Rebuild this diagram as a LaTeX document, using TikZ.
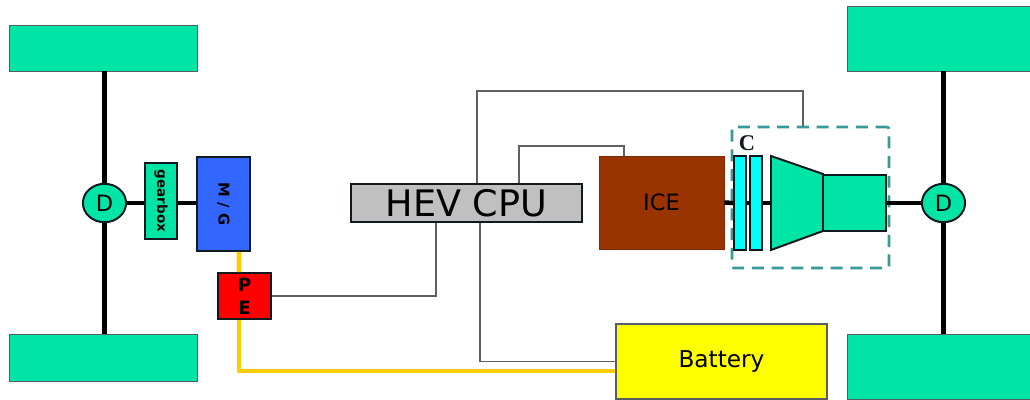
\documentclass[tikz,border=0pt]{standalone}
\usepackage{fontspec}
\setmainfont{DejaVu Sans}
\newfontfamily\labelserif{Liberation Serif}
\usetikzlibrary{shapes.geometric}
\definecolor{Ink}{HTML}{101820}
\definecolor{WheelGreen}{HTML}{00E4A6}
\definecolor{MotorBlue}{HTML}{3366FF}
\definecolor{EngineBrown}{HTML}{993300}
\definecolor{PlateCyan}{HTML}{00FFFF}
\definecolor{CaseTeal}{HTML}{379A96}
\definecolor{PowerOrange}{HTML}{FFCC00}
\definecolor{SignalGrey}{HTML}{606060}
\definecolor{CpuGrey}{HTML}{C0C0C0}
\definecolor{PackYellow}{HTML}{FFFF00}
\definecolor{PeRed}{HTML}{FF0000}
\tikzset{
  wheel/.style={draw=Ink!70!white, fill=WheelGreen, line width=0.5pt, inner sep=0pt},
  unit/.style={draw=Ink, line width=1.4pt, inner sep=0pt, align=center, text=black},
  diff/.style={unit, ellipse, fill=WheelGreen, minimum width=10.8mm, minimum height=9.6mm,
    font=\fontsize{16}{18}\selectfont},
  plate/.style={unit, fill=PlateCyan, minimum width=2.8mm, minimum height=23.5mm},
  axle/.style={draw=black, line width=4.2pt},
  shaft/.style={draw=black, line width=3.2pt},
  signal/.style={draw=SignalGrey, line width=1.1pt},
  power/.style={draw=PowerOrange, line width=3.4pt},
}
\begin{document}
\begin{tikzpicture}[x=0.25mm, y=-0.25mm]
  \useasboundingbox (0,0) rectangle (1030,400);

  % Four road wheels.
  \node[wheel, minimum width=47mm, minimum height=11.5mm] (wheelFL) at (103,48) {};
  \node[wheel, minimum width=47mm, minimum height=11.75mm] (wheelRL) at (103,357.5) {};
  \node[wheel, minimum width=45.75mm, minimum height=16.25mm] (wheelFR) at (938.5,38.5) {};
  \node[wheel, minimum width=45.75mm, minimum height=16.25mm] (wheelRR) at (938.5,366.5) {};

  % Dashed transmission case sits behind its parts.
  \node[draw=CaseTeal, line width=1.9pt, dash pattern=on 8.5pt off 5.5pt, rounded corners=1pt,
    minimum width=39.25mm, minimum height=35.25mm] (gearcase) at (810.5,197.5) {};

  % Electric side.
  \node[diff] (diffL) at (104.5,203) {D};
  \node[unit, fill=WheelGreen, minimum width=8mm, minimum height=19mm,
    font=\bfseries\fontsize{9.6}{13}\selectfont] (gearbox) at (161,201) {\rotatebox{-90}{gearbox}};
  \node[unit, fill=MotorBlue, minimum width=13.25mm, minimum height=23.5mm,
    font=\bfseries\fontsize{10.5}{13}\selectfont] (motor) at (223.5,204) {\rotatebox{-90}{M / G}};
  \node[unit, fill=PeRed, minimum width=13.25mm, minimum height=11.5mm,
    font=\bfseries\fontsize{13}{16.5}\selectfont] (inverter) at (244.5,296) {P\\E};

  % Controller, engine and battery.
  \node[unit, fill=CpuGrey, minimum width=57.75mm, minimum height=9.5mm,
    font=\fontsize{26}{28}\selectfont] (cpu) at (466.5,203) {HEV CPU};
  \node[draw=EngineBrown!85!black, line width=0.6pt, fill=EngineBrown, text=black, inner sep=0pt,
    minimum width=31.25mm, minimum height=23.25mm,
    font=\fontsize{16}{18}\selectfont] (engine) at (661.5,202.5) {ICE};
  \node[draw=Ink!70!white, line width=0.8pt, fill=PackYellow, text=black, inner sep=0pt,
    minimum width=52.75mm, minimum height=18.75mm,
    font=\fontsize{16.5}{18}\selectfont] (battery) at (721.5,361.5) {Battery};

  % Clutch plates and converter.
  \node[plate] (plateA) at (740,203) {};
  \node[plate] (plateB) at (756,203) {};
  \node[font=\labelserif\bfseries\fontsize{16}{18}\selectfont, text=Ink, inner sep=0pt] (clutch) at (747,143) {C};
  \draw[unit, fill=WheelGreen] (771,156) -- (823,174) -- (823,231) -- (771,250) -- cycle;
  \coordinate (converter) at (771,203);
  \node[unit, fill=WheelGreen, minimum width=15.75mm, minimum height=14mm] (drive) at (854.5,203) {};
  \node[diff] (diffR) at (943.5,203) {D};

  % Axles.
  \draw[axle] (diffL |- wheelFL.south) -- (diffL);
  \draw[axle] (diffL) -- (diffL |- wheelRL.north);
  \draw[axle] (diffR |- wheelFR.south) -- (diffR);
  \draw[axle] (diffR) -- (diffR |- wheelRR.north);

  % Drive shafts.
  \draw[shaft] (diffL) -- (diffL -| gearbox.west);
  \draw[shaft] (diffL -| gearbox.east) -- (diffL -| motor.west);
  \draw[shaft] (engine.east) -- (plateA.west);
  \draw[shaft] (plateA.east) -- (plateB.west);
  \draw[shaft] (plateB.east) -- (converter);
  \draw[shaft] (drive.east) -- (diffR);

  % Power path.
  \draw[power] ([xshift=3.9mm]motor.south) -- ([xshift=-1.4mm]inverter.north);
  \draw[power] ([xshift=-1.4mm]inverter.south) |- ([yshift=-2.4mm]battery.west);

  % Control wiring.
  \coordinate (caseCorner) at (803,91);
  \coordinate (engineCorner) at (624,146);
  \draw[signal] ([xshift=2.6mm]cpu.north) |- (caseCorner) -- (caseCorner |- gearcase.north);
  \draw[signal] ([xshift=13.1mm]cpu.north) |- (engineCorner) -- (engineCorner |- engine.north);
  \draw[signal] (inverter.east) -| ([xshift=-7.6mm]cpu.south);
  \draw[signal] ([xshift=3.4mm]cpu.south) |- (battery.west);
\end{tikzpicture}
\end{document}
